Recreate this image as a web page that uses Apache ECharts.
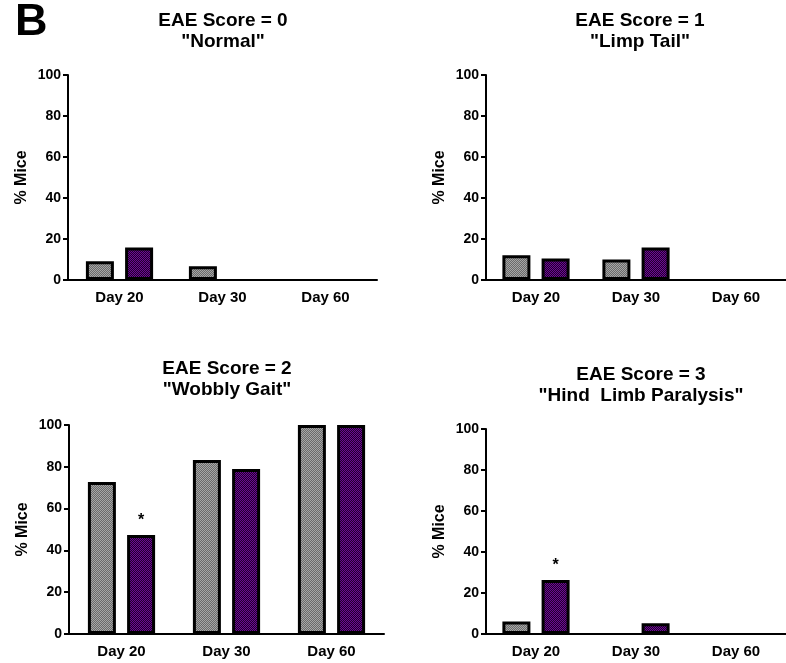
<!DOCTYPE html>
<html>
<head>
<meta charset="utf-8">
<script src="https://cdn.jsdelivr.net/npm/echarts@6/dist/echarts.min.js"></script>
<style>
  html, body { margin: 0; padding: 0; background: #fff; }
  #chart { width: 786px; height: 663px; }
</style>
</head>
<body>
<div id="chart"></div>
<script>
// Time points shared by every panel
const categories = ['Day 20', 'Day 30', 'Day 60'];
const yTicks = [0, 20, 40, 60, 80, 100];

// Panel titles (score and clinical description)
const panelTitles = [
  'EAE Score = 0\n"Normal"',
  'EAE Score = 1\n"Limp Tail"',
  'EAE Score = 2\n"Wobbly Gait"',
  'EAE Score = 3\n"Hind  Limb Paralysis"'
];

// % of mice at each score, first group (grey) and second group (purple)
const score0Grey   = [9.1, 6.7, 0];
const score0Purple = [15.8, 0, 0];
const score1Grey   = [12.1, 10.0, 0];
const score1Purple = [10.5, 15.8, 0];
const score2Grey   = [72.7, 83.3, 100];
const score2Purple = [47.4, 78.9, 100];
const score3Grey   = [6.1, 0, 0];
const score3Purple = [26.3, 5.3, 0];

// Significance flags for the purple bars
const score0Sig = [false, false, false];
const score1Sig = [false, false, false];
const score2Sig = [true, false, false];
const score3Sig = [true, false, false];

const FONT = "'Liberation Sans', Arial, sans-serif";

// Dithered fills, built as tiny repeating canvases
function checker(c1, c2) {
  const cv = document.createElement('canvas');
  cv.width = 2; cv.height = 2;
  const ctx = cv.getContext('2d');
  ctx.fillStyle = c1; ctx.fillRect(0, 0, 2, 2);
  ctx.fillStyle = c2; ctx.fillRect(1, 0, 1, 1); ctx.fillRect(0, 1, 1, 1);
  return { image: cv, repeat: 'repeat' };
}
const greyFill = checker('#a6a6a6', '#6a6a6a');
const purpleFill = checker('#6c0a94', '#22002e');

const grids = [
  { left: 68, top: 75, width: 309, height: 205 },
  { left: 486, top: 75, width: 309, height: 205 },
  { left: 69, top: 425, width: 315, height: 209 },
  { left: 486, top: 429, width: 309, height: 205 }
];

const panels = [
  [score0Grey, score0Purple, score0Sig],
  [score1Grey, score1Purple, score1Sig],
  [score2Grey, score2Purple, score2Sig],
  [score3Grey, score3Purple, score3Sig]
];

const axisLine = { lineStyle: { color: '#000', width: 2 } };
const axisTick = { lineStyle: { color: '#000', width: 2 }, length: 5 };

const xAxes = grids.map((g, i) => ({
  type: 'category', gridIndex: i, data: categories,
  axisLine: axisLine,
  axisTick: Object.assign({ alignWithLabel: true }, axisTick),
  axisLabel: { color: '#000', fontWeight: 'bold', fontSize: 15, fontFamily: FONT, margin: 10 },
  splitLine: { show: false }
}));

const yAxes = grids.map((g, i) => ({
  type: 'value', gridIndex: i,
  min: yTicks[0], max: yTicks[yTicks.length - 1], interval: yTicks[1] - yTicks[0],
  name: '% Mice', nameLocation: 'middle', nameGap: 38, nameRotate: 90,
  nameTextStyle: { color: '#000', fontWeight: 'bold', fontSize: 16, fontFamily: FONT },
  axisLine: Object.assign({ show: true }, axisLine),
  axisTick: Object.assign({ show: true }, axisTick),
  axisLabel: { color: '#000', fontWeight: 'bold', fontSize: 14, fontFamily: FONT, margin: 7 },
  splitLine: { show: false }
}));

function barItems(values, sig) {
  return values.map((v, k) => {
    const item = { value: v };
    if (v === 0) item.itemStyle = { borderWidth: 0 };
    if (sig && sig[k]) {
      item.label = {
        show: true, position: 'top', distance: 6, formatter: '*',
        color: '#000', fontSize: 16, fontWeight: 'bold', fontFamily: FONT
      };
    }
    return item;
  });
}

const series = [];
panels.forEach(([grey, purple, sig], i) => {
  series.push({
    type: 'bar', name: 'group A', xAxisIndex: i, yAxisIndex: i,
    data: barItems(grey, null), barWidth: 28, barGap: '40%',
    itemStyle: { color: greyFill, borderColor: '#000', borderWidth: 3 },
    emphasis: { disabled: true }
  });
  series.push({
    type: 'bar', name: 'group B', xAxisIndex: i, yAxisIndex: i,
    data: barItems(purple, sig), barWidth: 28, barGap: '40%',
    itemStyle: { color: purpleFill, borderColor: '#000', borderWidth: 3 },
    emphasis: { disabled: true }
  });
});

const titlePos = [[223, 10], [640, 10], [227, 358], [641, 364]];
const graphics = panelTitles.map((t, i) => ({
  type: 'text', x: titlePos[i][0], y: titlePos[i][1],
  style: {
    text: t, align: 'center', verticalAlign: 'top',
    font: 'bold 19px ' + FONT, lineHeight: 21, fill: '#000'
  }
}));
graphics.push({
  type: 'text', x: 15, y: 0,
  style: { text: 'B', font: 'bold 45px ' + FONT, fill: '#000', verticalAlign: 'top' }
});

const chart = echarts.init(document.getElementById('chart'), null, { renderer: 'canvas' });
chart.setOption({
  animation: false,
  backgroundColor: '#fff',
  grid: grids,
  xAxis: xAxes,
  yAxis: yAxes,
  series: series,
  graphic: graphics
});
</script>
</body>
</html>
